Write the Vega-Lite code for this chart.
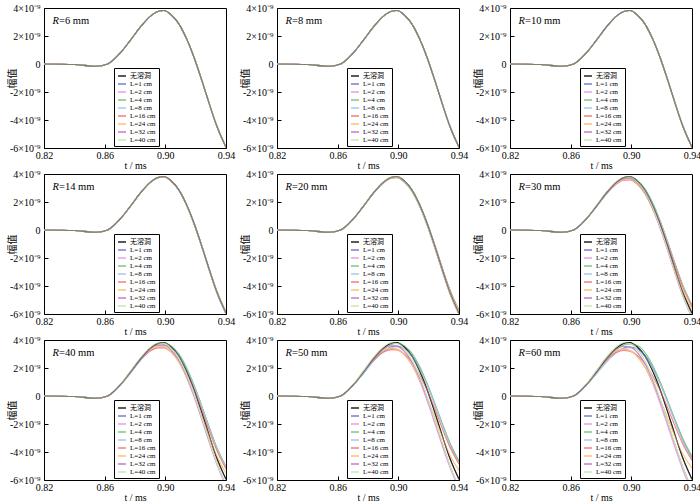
{
"$schema":"https://vega.github.io/schema/vega-lite/v6.json",
"background":"white",
"padding":{"left":6,"top":2,"right":2,"bottom":2},
"datasets":{
"p0":[
{"L":0,"t":0.82,"v":0},{"L":0,"t":0.84,"v":-0.04},{"L":0,"t":0.854,"v":-0.16},{"L":0,"t":0.862,"v":0},{"L":0,"t":0.87,"v":0.75},{"L":0,"t":0.877,"v":1.7},{"L":0,"t":0.884,"v":2.7},{"L":0,"t":0.89,"v":3.4},{"L":0,"t":0.895,"v":3.75},{"L":0,"t":0.899,"v":3.82},{"L":0,"t":0.904,"v":3.5},{"L":0,"t":0.909,"v":2.85},{"L":0,"t":0.914,"v":1.8},{"L":0,"t":0.919,"v":0.45},{"L":0,"t":0.924,"v":-1.15},{"L":0,"t":0.929,"v":-2.85},{"L":0,"t":0.934,"v":-4.45},{"L":0,"t":0.94,"v":-5.95},
{"L":1,"t":0.82,"v":0},{"L":1,"t":0.84,"v":-0.04},{"L":1,"t":0.854,"v":-0.16},{"L":1,"t":0.862,"v":0},{"L":1,"t":0.87,"v":0.75},{"L":1,"t":0.877,"v":1.7},{"L":1,"t":0.884,"v":2.7},{"L":1,"t":0.89,"v":3.4},{"L":1,"t":0.895,"v":3.75},{"L":1,"t":0.899,"v":3.82},{"L":1,"t":0.904,"v":3.5},{"L":1,"t":0.909,"v":2.85},{"L":1,"t":0.914,"v":1.8},{"L":1,"t":0.919,"v":0.45},{"L":1,"t":0.924,"v":-1.15},{"L":1,"t":0.929,"v":-2.85},{"L":1,"t":0.934,"v":-4.45},{"L":1,"t":0.94,"v":-5.95},
{"L":2,"t":0.82,"v":0},{"L":2,"t":0.84,"v":-0.04},{"L":2,"t":0.854,"v":-0.16},{"L":2,"t":0.862,"v":0},{"L":2,"t":0.87,"v":0.75},{"L":2,"t":0.877,"v":1.7},{"L":2,"t":0.884,"v":2.7},{"L":2,"t":0.89,"v":3.4},{"L":2,"t":0.895,"v":3.75},{"L":2,"t":0.899,"v":3.82},{"L":2,"t":0.904,"v":3.5},{"L":2,"t":0.909,"v":2.85},{"L":2,"t":0.914,"v":1.8},{"L":2,"t":0.919,"v":0.45},{"L":2,"t":0.924,"v":-1.15},{"L":2,"t":0.929,"v":-2.85},{"L":2,"t":0.934,"v":-4.45},{"L":2,"t":0.94,"v":-5.95},
{"L":4,"t":0.82,"v":0},{"L":4,"t":0.84,"v":-0.04},{"L":4,"t":0.854,"v":-0.16},{"L":4,"t":0.862,"v":0},{"L":4,"t":0.87,"v":0.75},{"L":4,"t":0.877,"v":1.7},{"L":4,"t":0.884,"v":2.7},{"L":4,"t":0.89,"v":3.4},{"L":4,"t":0.895,"v":3.75},{"L":4,"t":0.899,"v":3.82},{"L":4,"t":0.904,"v":3.5},{"L":4,"t":0.909,"v":2.85},{"L":4,"t":0.914,"v":1.8},{"L":4,"t":0.919,"v":0.45},{"L":4,"t":0.924,"v":-1.15},{"L":4,"t":0.929,"v":-2.85},{"L":4,"t":0.934,"v":-4.45},{"L":4,"t":0.94,"v":-5.95},
{"L":8,"t":0.82,"v":0},{"L":8,"t":0.84,"v":-0.04},{"L":8,"t":0.854,"v":-0.16},{"L":8,"t":0.862,"v":0},{"L":8,"t":0.87,"v":0.75},{"L":8,"t":0.877,"v":1.7},{"L":8,"t":0.884,"v":2.7},{"L":8,"t":0.89,"v":3.4},{"L":8,"t":0.895,"v":3.75},{"L":8,"t":0.899,"v":3.82},{"L":8,"t":0.904,"v":3.5},{"L":8,"t":0.909,"v":2.85},{"L":8,"t":0.914,"v":1.8},{"L":8,"t":0.919,"v":0.45},{"L":8,"t":0.924,"v":-1.15},{"L":8,"t":0.929,"v":-2.85},{"L":8,"t":0.934,"v":-4.45},{"L":8,"t":0.94,"v":-5.95},
{"L":16,"t":0.82,"v":0},{"L":16,"t":0.84,"v":-0.04},{"L":16,"t":0.854,"v":-0.16},{"L":16,"t":0.862,"v":0},{"L":16,"t":0.87,"v":0.75},{"L":16,"t":0.877,"v":1.7},{"L":16,"t":0.884,"v":2.7},{"L":16,"t":0.89,"v":3.4},{"L":16,"t":0.895,"v":3.75},{"L":16,"t":0.899,"v":3.82},{"L":16,"t":0.904,"v":3.5},{"L":16,"t":0.909,"v":2.85},{"L":16,"t":0.914,"v":1.8},{"L":16,"t":0.919,"v":0.45},{"L":16,"t":0.924,"v":-1.15},{"L":16,"t":0.929,"v":-2.85},{"L":16,"t":0.934,"v":-4.45},{"L":16,"t":0.94,"v":-5.95},
{"L":24,"t":0.82,"v":0},{"L":24,"t":0.84,"v":-0.04},{"L":24,"t":0.854,"v":-0.16},{"L":24,"t":0.862,"v":0},{"L":24,"t":0.87,"v":0.75},{"L":24,"t":0.877,"v":1.7},{"L":24,"t":0.884,"v":2.7},{"L":24,"t":0.89,"v":3.4},{"L":24,"t":0.895,"v":3.75},{"L":24,"t":0.899,"v":3.82},{"L":24,"t":0.904,"v":3.5},{"L":24,"t":0.909,"v":2.85},{"L":24,"t":0.914,"v":1.8},{"L":24,"t":0.919,"v":0.45},{"L":24,"t":0.924,"v":-1.15},{"L":24,"t":0.929,"v":-2.85},{"L":24,"t":0.934,"v":-4.45},{"L":24,"t":0.94,"v":-5.95},
{"L":32,"t":0.82,"v":0},{"L":32,"t":0.84,"v":-0.04},{"L":32,"t":0.854,"v":-0.16},{"L":32,"t":0.862,"v":0},{"L":32,"t":0.87,"v":0.75},{"L":32,"t":0.877,"v":1.7},{"L":32,"t":0.884,"v":2.7},{"L":32,"t":0.89,"v":3.4},{"L":32,"t":0.895,"v":3.75},{"L":32,"t":0.899,"v":3.82},{"L":32,"t":0.904,"v":3.5},{"L":32,"t":0.909,"v":2.85},{"L":32,"t":0.914,"v":1.8},{"L":32,"t":0.919,"v":0.45},{"L":32,"t":0.924,"v":-1.15},{"L":32,"t":0.929,"v":-2.85},{"L":32,"t":0.934,"v":-4.45},{"L":32,"t":0.94,"v":-5.95},
{"L":40,"t":0.82,"v":0},{"L":40,"t":0.84,"v":-0.04},{"L":40,"t":0.854,"v":-0.16},{"L":40,"t":0.862,"v":0},{"L":40,"t":0.87,"v":0.75},{"L":40,"t":0.877,"v":1.7},{"L":40,"t":0.884,"v":2.7},{"L":40,"t":0.89,"v":3.4},{"L":40,"t":0.895,"v":3.75},{"L":40,"t":0.899,"v":3.82},{"L":40,"t":0.904,"v":3.5},{"L":40,"t":0.909,"v":2.85},{"L":40,"t":0.914,"v":1.8},{"L":40,"t":0.919,"v":0.45},{"L":40,"t":0.924,"v":-1.15},{"L":40,"t":0.929,"v":-2.85},{"L":40,"t":0.934,"v":-4.45},{"L":40,"t":0.94,"v":-5.95}
],
"p14":[
{"L":0,"t":0.82,"v":0},{"L":0,"t":0.84,"v":-0.04},{"L":0,"t":0.854,"v":-0.16},{"L":0,"t":0.862,"v":0},{"L":0,"t":0.87,"v":0.75},{"L":0,"t":0.877,"v":1.7},{"L":0,"t":0.884,"v":2.7},{"L":0,"t":0.89,"v":3.4},{"L":0,"t":0.895,"v":3.75},{"L":0,"t":0.899,"v":3.82},{"L":0,"t":0.904,"v":3.5},{"L":0,"t":0.909,"v":2.85},{"L":0,"t":0.914,"v":1.8},{"L":0,"t":0.919,"v":0.45},{"L":0,"t":0.924,"v":-1.15},{"L":0,"t":0.929,"v":-2.85},{"L":0,"t":0.934,"v":-4.45},{"L":0,"t":0.94,"v":-5.95},
{"L":1,"t":0.82,"v":0},{"L":1,"t":0.84,"v":-0.04},{"L":1,"t":0.854,"v":-0.16},{"L":1,"t":0.862,"v":0},{"L":1,"t":0.87,"v":0.75},{"L":1,"t":0.877,"v":1.7},{"L":1,"t":0.884,"v":2.69},{"L":1,"t":0.89,"v":3.39},{"L":1,"t":0.895,"v":3.73},{"L":1,"t":0.899,"v":3.8},{"L":1,"t":0.904,"v":3.49},{"L":1,"t":0.909,"v":2.85},{"L":1,"t":0.914,"v":1.81},{"L":1,"t":0.919,"v":0.48},{"L":1,"t":0.924,"v":-1.11},{"L":1,"t":0.929,"v":-2.8},{"L":1,"t":0.934,"v":-4.39},{"L":1,"t":0.94,"v":-5.87},
{"L":2,"t":0.82,"v":0},{"L":2,"t":0.84,"v":-0.04},{"L":2,"t":0.854,"v":-0.16},{"L":2,"t":0.862,"v":0},{"L":2,"t":0.87,"v":0.75},{"L":2,"t":0.877,"v":1.7},{"L":2,"t":0.884,"v":2.7},{"L":2,"t":0.89,"v":3.39},{"L":2,"t":0.895,"v":3.73},{"L":2,"t":0.899,"v":3.79},{"L":2,"t":0.904,"v":3.47},{"L":2,"t":0.909,"v":2.81},{"L":2,"t":0.914,"v":1.76},{"L":2,"t":0.919,"v":0.4},{"L":2,"t":0.924,"v":-1.2},{"L":2,"t":0.929,"v":-2.9},{"L":2,"t":0.934,"v":-4.49},{"L":2,"t":0.94,"v":-6.0},
{"L":4,"t":0.82,"v":0},{"L":4,"t":0.84,"v":-0.04},{"L":4,"t":0.854,"v":-0.16},{"L":4,"t":0.862,"v":0},{"L":4,"t":0.87,"v":0.75},{"L":4,"t":0.877,"v":1.7},{"L":4,"t":0.884,"v":2.7},{"L":4,"t":0.89,"v":3.4},{"L":4,"t":0.895,"v":3.75},{"L":4,"t":0.899,"v":3.82},{"L":4,"t":0.904,"v":3.51},{"L":4,"t":0.909,"v":2.86},{"L":4,"t":0.914,"v":1.82},{"L":4,"t":0.919,"v":0.48},{"L":4,"t":0.924,"v":-1.11},{"L":4,"t":0.929,"v":-2.8},{"L":4,"t":0.934,"v":-4.38},{"L":4,"t":0.94,"v":-5.87},
{"L":8,"t":0.82,"v":0},{"L":8,"t":0.84,"v":-0.04},{"L":8,"t":0.854,"v":-0.16},{"L":8,"t":0.862,"v":0},{"L":8,"t":0.87,"v":0.75},{"L":8,"t":0.877,"v":1.7},{"L":8,"t":0.884,"v":2.69},{"L":8,"t":0.89,"v":3.39},{"L":8,"t":0.895,"v":3.73},{"L":8,"t":0.899,"v":3.8},{"L":8,"t":0.904,"v":3.49},{"L":8,"t":0.909,"v":2.85},{"L":8,"t":0.914,"v":1.81},{"L":8,"t":0.919,"v":0.47},{"L":8,"t":0.924,"v":-1.12},{"L":8,"t":0.929,"v":-2.8},{"L":8,"t":0.934,"v":-4.39},{"L":8,"t":0.94,"v":-5.88},
{"L":16,"t":0.82,"v":0},{"L":16,"t":0.84,"v":-0.04},{"L":16,"t":0.854,"v":-0.16},{"L":16,"t":0.862,"v":0},{"L":16,"t":0.87,"v":0.75},{"L":16,"t":0.877,"v":1.7},{"L":16,"t":0.884,"v":2.7},{"L":16,"t":0.89,"v":3.38},{"L":16,"t":0.895,"v":3.72},{"L":16,"t":0.899,"v":3.79},{"L":16,"t":0.904,"v":3.47},{"L":16,"t":0.909,"v":2.82},{"L":16,"t":0.914,"v":1.78},{"L":16,"t":0.919,"v":0.45},{"L":16,"t":0.924,"v":-1.14},{"L":16,"t":0.929,"v":-2.82},{"L":16,"t":0.934,"v":-4.4},{"L":16,"t":0.94,"v":-5.88},
{"L":24,"t":0.82,"v":0},{"L":24,"t":0.84,"v":-0.04},{"L":24,"t":0.854,"v":-0.16},{"L":24,"t":0.862,"v":0},{"L":24,"t":0.87,"v":0.75},{"L":24,"t":0.877,"v":1.71},{"L":24,"t":0.884,"v":2.7},{"L":24,"t":0.89,"v":3.39},{"L":24,"t":0.895,"v":3.73},{"L":24,"t":0.899,"v":3.79},{"L":24,"t":0.904,"v":3.47},{"L":24,"t":0.909,"v":2.81},{"L":24,"t":0.914,"v":1.76},{"L":24,"t":0.919,"v":0.42},{"L":24,"t":0.924,"v":-1.17},{"L":24,"t":0.929,"v":-2.86},{"L":24,"t":0.934,"v":-4.44},{"L":24,"t":0.94,"v":-5.91},
{"L":32,"t":0.82,"v":0},{"L":32,"t":0.84,"v":-0.04},{"L":32,"t":0.854,"v":-0.16},{"L":32,"t":0.862,"v":0},{"L":32,"t":0.87,"v":0.75},{"L":32,"t":0.877,"v":1.7},{"L":32,"t":0.884,"v":2.7},{"L":32,"t":0.89,"v":3.4},{"L":32,"t":0.895,"v":3.74},{"L":32,"t":0.899,"v":3.8},{"L":32,"t":0.904,"v":3.48},{"L":32,"t":0.909,"v":2.82},{"L":32,"t":0.914,"v":1.77},{"L":32,"t":0.919,"v":0.41},{"L":32,"t":0.924,"v":-1.19},{"L":32,"t":0.929,"v":-2.89},{"L":32,"t":0.934,"v":-4.48},{"L":32,"t":0.94,"v":-5.99},
{"L":40,"t":0.82,"v":0},{"L":40,"t":0.84,"v":-0.04},{"L":40,"t":0.854,"v":-0.16},{"L":40,"t":0.862,"v":0},{"L":40,"t":0.87,"v":0.75},{"L":40,"t":0.877,"v":1.71},{"L":40,"t":0.884,"v":2.71},{"L":40,"t":0.89,"v":3.41},{"L":40,"t":0.895,"v":3.75},{"L":40,"t":0.899,"v":3.82},{"L":40,"t":0.904,"v":3.49},{"L":40,"t":0.909,"v":2.83},{"L":40,"t":0.914,"v":1.78},{"L":40,"t":0.919,"v":0.42},{"L":40,"t":0.924,"v":-1.19},{"L":40,"t":0.929,"v":-2.88},{"L":40,"t":0.934,"v":-4.48},{"L":40,"t":0.94,"v":-5.99}
],
"p20":[
{"L":0,"t":0.82,"v":0},{"L":0,"t":0.84,"v":-0.04},{"L":0,"t":0.854,"v":-0.16},{"L":0,"t":0.862,"v":0},{"L":0,"t":0.87,"v":0.75},{"L":0,"t":0.877,"v":1.7},{"L":0,"t":0.884,"v":2.7},{"L":0,"t":0.89,"v":3.4},{"L":0,"t":0.895,"v":3.75},{"L":0,"t":0.899,"v":3.82},{"L":0,"t":0.904,"v":3.5},{"L":0,"t":0.909,"v":2.85},{"L":0,"t":0.914,"v":1.8},{"L":0,"t":0.919,"v":0.45},{"L":0,"t":0.924,"v":-1.15},{"L":0,"t":0.929,"v":-2.85},{"L":0,"t":0.934,"v":-4.45},{"L":0,"t":0.94,"v":-5.95},
{"L":1,"t":0.82,"v":0},{"L":1,"t":0.84,"v":-0.04},{"L":1,"t":0.854,"v":-0.16},{"L":1,"t":0.862,"v":0},{"L":1,"t":0.87,"v":0.75},{"L":1,"t":0.877,"v":1.69},{"L":1,"t":0.884,"v":2.68},{"L":1,"t":0.89,"v":3.36},{"L":1,"t":0.895,"v":3.71},{"L":1,"t":0.899,"v":3.78},{"L":1,"t":0.904,"v":3.48},{"L":1,"t":0.909,"v":2.86},{"L":1,"t":0.914,"v":1.83},{"L":1,"t":0.919,"v":0.51},{"L":1,"t":0.924,"v":-1.06},{"L":1,"t":0.929,"v":-2.72},{"L":1,"t":0.934,"v":-4.29},{"L":1,"t":0.94,"v":-5.76},
{"L":2,"t":0.82,"v":0},{"L":2,"t":0.84,"v":-0.04},{"L":2,"t":0.854,"v":-0.16},{"L":2,"t":0.862,"v":0},{"L":2,"t":0.87,"v":0.75},{"L":2,"t":0.877,"v":1.71},{"L":2,"t":0.884,"v":2.7},{"L":2,"t":0.89,"v":3.38},{"L":2,"t":0.895,"v":3.7},{"L":2,"t":0.899,"v":3.75},{"L":2,"t":0.904,"v":3.42},{"L":2,"t":0.909,"v":2.75},{"L":2,"t":0.914,"v":1.69},{"L":2,"t":0.919,"v":0.33},{"L":2,"t":0.924,"v":-1.27},{"L":2,"t":0.929,"v":-2.96},{"L":2,"t":0.934,"v":-4.55},{"L":2,"t":0.94,"v":-6.06},
{"L":4,"t":0.82,"v":0},{"L":4,"t":0.84,"v":-0.04},{"L":4,"t":0.854,"v":-0.16},{"L":4,"t":0.862,"v":0},{"L":4,"t":0.87,"v":0.75},{"L":4,"t":0.877,"v":1.69},{"L":4,"t":0.884,"v":2.69},{"L":4,"t":0.89,"v":3.39},{"L":4,"t":0.895,"v":3.74},{"L":4,"t":0.899,"v":3.81},{"L":4,"t":0.904,"v":3.51},{"L":4,"t":0.909,"v":2.88},{"L":4,"t":0.914,"v":1.85},{"L":4,"t":0.919,"v":0.52},{"L":4,"t":0.924,"v":-1.05},{"L":4,"t":0.929,"v":-2.72},{"L":4,"t":0.934,"v":-4.28},{"L":4,"t":0.94,"v":-5.75},
{"L":8,"t":0.82,"v":0},{"L":8,"t":0.84,"v":-0.04},{"L":8,"t":0.854,"v":-0.16},{"L":8,"t":0.862,"v":0},{"L":8,"t":0.87,"v":0.75},{"L":8,"t":0.877,"v":1.69},{"L":8,"t":0.884,"v":2.68},{"L":8,"t":0.89,"v":3.36},{"L":8,"t":0.895,"v":3.71},{"L":8,"t":0.899,"v":3.78},{"L":8,"t":0.904,"v":3.48},{"L":8,"t":0.909,"v":2.84},{"L":8,"t":0.914,"v":1.82},{"L":8,"t":0.919,"v":0.5},{"L":8,"t":0.924,"v":-1.07},{"L":8,"t":0.929,"v":-2.74},{"L":8,"t":0.934,"v":-4.31},{"L":8,"t":0.94,"v":-5.78},
{"L":16,"t":0.82,"v":0},{"L":16,"t":0.84,"v":-0.04},{"L":16,"t":0.854,"v":-0.16},{"L":16,"t":0.862,"v":0},{"L":16,"t":0.87,"v":0.75},{"L":16,"t":0.877,"v":1.71},{"L":16,"t":0.884,"v":2.69},{"L":16,"t":0.89,"v":3.36},{"L":16,"t":0.895,"v":3.68},{"L":16,"t":0.899,"v":3.74},{"L":16,"t":0.904,"v":3.42},{"L":16,"t":0.909,"v":2.78},{"L":16,"t":0.914,"v":1.76},{"L":16,"t":0.919,"v":0.44},{"L":16,"t":0.924,"v":-1.11},{"L":16,"t":0.929,"v":-2.77},{"L":16,"t":0.934,"v":-4.33},{"L":16,"t":0.94,"v":-5.79},
{"L":24,"t":0.82,"v":0},{"L":24,"t":0.84,"v":-0.04},{"L":24,"t":0.854,"v":-0.16},{"L":24,"t":0.862,"v":0},{"L":24,"t":0.87,"v":0.75},{"L":24,"t":0.877,"v":1.71},{"L":24,"t":0.884,"v":2.71},{"L":24,"t":0.89,"v":3.38},{"L":24,"t":0.895,"v":3.7},{"L":24,"t":0.899,"v":3.75},{"L":24,"t":0.904,"v":3.42},{"L":24,"t":0.909,"v":2.75},{"L":24,"t":0.914,"v":1.7},{"L":24,"t":0.919,"v":0.37},{"L":24,"t":0.924,"v":-1.2},{"L":24,"t":0.929,"v":-2.86},{"L":24,"t":0.934,"v":-4.41},{"L":24,"t":0.94,"v":-5.85},
{"L":32,"t":0.82,"v":0},{"L":32,"t":0.84,"v":-0.04},{"L":32,"t":0.854,"v":-0.16},{"L":32,"t":0.862,"v":0},{"L":32,"t":0.87,"v":0.75},{"L":32,"t":0.877,"v":1.71},{"L":32,"t":0.884,"v":2.71},{"L":32,"t":0.89,"v":3.39},{"L":32,"t":0.895,"v":3.73},{"L":32,"t":0.899,"v":3.78},{"L":32,"t":0.904,"v":3.45},{"L":32,"t":0.909,"v":2.78},{"L":32,"t":0.914,"v":1.72},{"L":32,"t":0.919,"v":0.36},{"L":32,"t":0.924,"v":-1.24},{"L":32,"t":0.929,"v":-2.93},{"L":32,"t":0.934,"v":-4.53},{"L":32,"t":0.94,"v":-6.04},
{"L":40,"t":0.82,"v":0},{"L":40,"t":0.84,"v":-0.04},{"L":40,"t":0.854,"v":-0.16},{"L":40,"t":0.862,"v":0},{"L":40,"t":0.87,"v":0.75},{"L":40,"t":0.877,"v":1.71},{"L":40,"t":0.884,"v":2.72},{"L":40,"t":0.89,"v":3.41},{"L":40,"t":0.895,"v":3.76},{"L":40,"t":0.899,"v":3.81},{"L":40,"t":0.904,"v":3.48},{"L":40,"t":0.909,"v":2.81},{"L":40,"t":0.914,"v":1.74},{"L":40,"t":0.919,"v":0.37},{"L":40,"t":0.924,"v":-1.23},{"L":40,"t":0.929,"v":-2.93},{"L":40,"t":0.934,"v":-4.53},{"L":40,"t":0.94,"v":-6.05}
],
"p30":[
{"L":0,"t":0.82,"v":0},{"L":0,"t":0.84,"v":-0.04},{"L":0,"t":0.854,"v":-0.16},{"L":0,"t":0.862,"v":0},{"L":0,"t":0.87,"v":0.75},{"L":0,"t":0.877,"v":1.7},{"L":0,"t":0.884,"v":2.7},{"L":0,"t":0.89,"v":3.4},{"L":0,"t":0.895,"v":3.75},{"L":0,"t":0.899,"v":3.82},{"L":0,"t":0.904,"v":3.5},{"L":0,"t":0.909,"v":2.85},{"L":0,"t":0.914,"v":1.8},{"L":0,"t":0.919,"v":0.45},{"L":0,"t":0.924,"v":-1.15},{"L":0,"t":0.929,"v":-2.85},{"L":0,"t":0.934,"v":-4.45},{"L":0,"t":0.94,"v":-5.95},
{"L":1,"t":0.82,"v":0},{"L":1,"t":0.84,"v":-0.04},{"L":1,"t":0.854,"v":-0.16},{"L":1,"t":0.862,"v":0},{"L":1,"t":0.87,"v":0.75},{"L":1,"t":0.877,"v":1.67},{"L":1,"t":0.884,"v":2.63},{"L":1,"t":0.89,"v":3.3},{"L":1,"t":0.895,"v":3.63},{"L":1,"t":0.899,"v":3.71},{"L":1,"t":0.904,"v":3.45},{"L":1,"t":0.909,"v":2.87},{"L":1,"t":0.914,"v":1.89},{"L":1,"t":0.919,"v":0.63},{"L":1,"t":0.924,"v":-0.89},{"L":1,"t":0.929,"v":-2.48},{"L":1,"t":0.934,"v":-4.0},{"L":1,"t":0.94,"v":-5.41},
{"L":2,"t":0.82,"v":0},{"L":2,"t":0.84,"v":-0.04},{"L":2,"t":0.854,"v":-0.16},{"L":2,"t":0.862,"v":0},{"L":2,"t":0.87,"v":0.75},{"L":2,"t":0.877,"v":1.72},{"L":2,"t":0.884,"v":2.7},{"L":2,"t":0.89,"v":3.33},{"L":2,"t":0.895,"v":3.59},{"L":2,"t":0.899,"v":3.62},{"L":2,"t":0.904,"v":3.27},{"L":2,"t":0.909,"v":2.57},{"L":2,"t":0.914,"v":1.49},{"L":2,"t":0.919,"v":0.1},{"L":2,"t":0.924,"v":-1.5},{"L":2,"t":0.929,"v":-3.17},{"L":2,"t":0.934,"v":-4.73},{"L":2,"t":0.94,"v":-6.28},
{"L":4,"t":0.82,"v":0},{"L":4,"t":0.84,"v":-0.04},{"L":4,"t":0.854,"v":-0.16},{"L":4,"t":0.862,"v":0},{"L":4,"t":0.87,"v":0.75},{"L":4,"t":0.877,"v":1.67},{"L":4,"t":0.884,"v":2.67},{"L":4,"t":0.89,"v":3.37},{"L":4,"t":0.895,"v":3.72},{"L":4,"t":0.899,"v":3.8},{"L":4,"t":0.904,"v":3.54},{"L":4,"t":0.909,"v":2.94},{"L":4,"t":0.914,"v":1.94},{"L":4,"t":0.919,"v":0.64},{"L":4,"t":0.924,"v":-0.87},{"L":4,"t":0.929,"v":-2.47},{"L":4,"t":0.934,"v":-3.96},{"L":4,"t":0.94,"v":-5.37},
{"L":8,"t":0.82,"v":0},{"L":8,"t":0.84,"v":-0.04},{"L":8,"t":0.854,"v":-0.16},{"L":8,"t":0.862,"v":0},{"L":8,"t":0.87,"v":0.75},{"L":8,"t":0.877,"v":1.67},{"L":8,"t":0.884,"v":2.63},{"L":8,"t":0.89,"v":3.3},{"L":8,"t":0.895,"v":3.62},{"L":8,"t":0.899,"v":3.69},{"L":8,"t":0.904,"v":3.43},{"L":8,"t":0.909,"v":2.83},{"L":8,"t":0.914,"v":1.85},{"L":8,"t":0.919,"v":0.59},{"L":8,"t":0.924,"v":-0.92},{"L":8,"t":0.929,"v":-2.52},{"L":8,"t":0.934,"v":-4.03},{"L":8,"t":0.94,"v":-5.44},
{"L":16,"t":0.82,"v":0},{"L":16,"t":0.84,"v":-0.04},{"L":16,"t":0.854,"v":-0.16},{"L":16,"t":0.862,"v":0},{"L":16,"t":0.87,"v":0.75},{"L":16,"t":0.877,"v":1.72},{"L":16,"t":0.884,"v":2.67},{"L":16,"t":0.89,"v":3.28},{"L":16,"t":0.895,"v":3.55},{"L":16,"t":0.899,"v":3.58},{"L":16,"t":0.904,"v":3.27},{"L":16,"t":0.909,"v":2.66},{"L":16,"t":0.914,"v":1.68},{"L":16,"t":0.919,"v":0.43},{"L":16,"t":0.924,"v":-1.05},{"L":16,"t":0.929,"v":-2.62},{"L":16,"t":0.934,"v":-4.1},{"L":16,"t":0.94,"v":-5.48},
{"L":24,"t":0.82,"v":0},{"L":24,"t":0.84,"v":-0.04},{"L":24,"t":0.854,"v":-0.16},{"L":24,"t":0.862,"v":0},{"L":24,"t":0.87,"v":0.75},{"L":24,"t":0.877,"v":1.74},{"L":24,"t":0.884,"v":2.72},{"L":24,"t":0.89,"v":3.35},{"L":24,"t":0.895,"v":3.61},{"L":24,"t":0.899,"v":3.62},{"L":24,"t":0.904,"v":3.26},{"L":24,"t":0.909,"v":2.57},{"L":24,"t":0.914,"v":1.52},{"L":24,"t":0.919,"v":0.21},{"L":24,"t":0.924,"v":-1.31},{"L":24,"t":0.929,"v":-2.89},{"L":24,"t":0.934,"v":-4.35},{"L":24,"t":0.94,"v":-5.67},
{"L":32,"t":0.82,"v":0},{"L":32,"t":0.84,"v":-0.04},{"L":32,"t":0.854,"v":-0.16},{"L":32,"t":0.862,"v":0},{"L":32,"t":0.87,"v":0.75},{"L":32,"t":0.877,"v":1.72},{"L":32,"t":0.884,"v":2.72},{"L":32,"t":0.89,"v":3.38},{"L":32,"t":0.895,"v":3.68},{"L":32,"t":0.899,"v":3.71},{"L":32,"t":0.904,"v":3.36},{"L":32,"t":0.909,"v":2.66},{"L":32,"t":0.914,"v":1.57},{"L":32,"t":0.919,"v":0.19},{"L":32,"t":0.924,"v":-1.41},{"L":32,"t":0.929,"v":-3.1},{"L":32,"t":0.934,"v":-4.68},{"L":32,"t":0.94,"v":-6.21},
{"L":40,"t":0.82,"v":0},{"L":40,"t":0.84,"v":-0.04},{"L":40,"t":0.854,"v":-0.16},{"L":40,"t":0.862,"v":0},{"L":40,"t":0.87,"v":0.75},{"L":40,"t":0.877,"v":1.74},{"L":40,"t":0.884,"v":2.75},{"L":40,"t":0.89,"v":3.44},{"L":40,"t":0.895,"v":3.77},{"L":40,"t":0.899,"v":3.8},{"L":40,"t":0.904,"v":3.43},{"L":40,"t":0.909,"v":2.73},{"L":40,"t":0.914,"v":1.63},{"L":40,"t":0.919,"v":0.22},{"L":40,"t":0.924,"v":-1.4},{"L":40,"t":0.929,"v":-3.08},{"L":40,"t":0.934,"v":-4.68},{"L":40,"t":0.94,"v":-6.25}
],
"p40":[
{"L":0,"t":0.82,"v":0},{"L":0,"t":0.84,"v":-0.04},{"L":0,"t":0.854,"v":-0.16},{"L":0,"t":0.862,"v":0},{"L":0,"t":0.87,"v":0.75},{"L":0,"t":0.877,"v":1.7},{"L":0,"t":0.884,"v":2.7},{"L":0,"t":0.89,"v":3.4},{"L":0,"t":0.895,"v":3.75},{"L":0,"t":0.899,"v":3.82},{"L":0,"t":0.904,"v":3.5},{"L":0,"t":0.909,"v":2.85},{"L":0,"t":0.914,"v":1.8},{"L":0,"t":0.919,"v":0.45},{"L":0,"t":0.924,"v":-1.15},{"L":0,"t":0.929,"v":-2.85},{"L":0,"t":0.934,"v":-4.45},{"L":0,"t":0.94,"v":-5.95},
{"L":1,"t":0.82,"v":0},{"L":1,"t":0.84,"v":-0.04},{"L":1,"t":0.854,"v":-0.16},{"L":1,"t":0.862,"v":0},{"L":1,"t":0.87,"v":0.75},{"L":1,"t":0.877,"v":1.65},{"L":1,"t":0.884,"v":2.59},{"L":1,"t":0.89,"v":3.24},{"L":1,"t":0.895,"v":3.57},{"L":1,"t":0.899,"v":3.64},{"L":1,"t":0.904,"v":3.42},{"L":1,"t":0.909,"v":2.88},{"L":1,"t":0.914,"v":1.94},{"L":1,"t":0.919,"v":0.73},{"L":1,"t":0.924,"v":-0.74},{"L":1,"t":0.929,"v":-2.27},{"L":1,"t":0.934,"v":-3.74},{"L":1,"t":0.94,"v":-5.1},
{"L":2,"t":0.82,"v":0},{"L":2,"t":0.84,"v":-0.04},{"L":2,"t":0.854,"v":-0.16},{"L":2,"t":0.862,"v":0},{"L":2,"t":0.87,"v":0.75},{"L":2,"t":0.877,"v":1.73},{"L":2,"t":0.884,"v":2.7},{"L":2,"t":0.89,"v":3.29},{"L":2,"t":0.895,"v":3.5},{"L":2,"t":0.899,"v":3.51},{"L":2,"t":0.904,"v":3.14},{"L":2,"t":0.909,"v":2.41},{"L":2,"t":0.914,"v":1.31},{"L":2,"t":0.919,"v":-0.1},{"L":2,"t":0.924,"v":-1.7},{"L":2,"t":0.929,"v":-3.35},{"L":2,"t":0.934,"v":-4.89},{"L":2,"t":0.94,"v":-6.47},
{"L":4,"t":0.82,"v":0},{"L":4,"t":0.84,"v":-0.04},{"L":4,"t":0.854,"v":-0.16},{"L":4,"t":0.862,"v":0},{"L":4,"t":0.87,"v":0.75},{"L":4,"t":0.877,"v":1.65},{"L":4,"t":0.884,"v":2.65},{"L":4,"t":0.89,"v":3.35},{"L":4,"t":0.895,"v":3.7},{"L":4,"t":0.899,"v":3.78},{"L":4,"t":0.904,"v":3.56},{"L":4,"t":0.909,"v":2.99},{"L":4,"t":0.914,"v":2.02},{"L":4,"t":0.919,"v":0.75},{"L":4,"t":0.924,"v":-0.71},{"L":4,"t":0.929,"v":-2.25},{"L":4,"t":0.934,"v":-3.68},{"L":4,"t":0.94,"v":-5.04},
{"L":8,"t":0.82,"v":0},{"L":8,"t":0.84,"v":-0.04},{"L":8,"t":0.854,"v":-0.16},{"L":8,"t":0.862,"v":0},{"L":8,"t":0.87,"v":0.75},{"L":8,"t":0.877,"v":1.65},{"L":8,"t":0.884,"v":2.59},{"L":8,"t":0.89,"v":3.24},{"L":8,"t":0.895,"v":3.55},{"L":8,"t":0.899,"v":3.62},{"L":8,"t":0.904,"v":3.39},{"L":8,"t":0.909,"v":2.82},{"L":8,"t":0.914,"v":1.88},{"L":8,"t":0.919,"v":0.67},{"L":8,"t":0.924,"v":-0.79},{"L":8,"t":0.929,"v":-2.33},{"L":8,"t":0.934,"v":-3.79},{"L":8,"t":0.94,"v":-5.15},
{"L":16,"t":0.82,"v":0},{"L":16,"t":0.84,"v":-0.04},{"L":16,"t":0.854,"v":-0.16},{"L":16,"t":0.862,"v":0},{"L":16,"t":0.87,"v":0.75},{"L":16,"t":0.877,"v":1.73},{"L":16,"t":0.884,"v":2.65},{"L":16,"t":0.89,"v":3.21},{"L":16,"t":0.895,"v":3.44},{"L":16,"t":0.899,"v":3.44},{"L":16,"t":0.904,"v":3.14},{"L":16,"t":0.909,"v":2.55},{"L":16,"t":0.914,"v":1.61},{"L":16,"t":0.919,"v":0.42},{"L":16,"t":0.924,"v":-0.99},{"L":16,"t":0.929,"v":-2.49},{"L":16,"t":0.934,"v":-3.9},{"L":16,"t":0.94,"v":-5.21},
{"L":24,"t":0.82,"v":0},{"L":24,"t":0.84,"v":-0.04},{"L":24,"t":0.854,"v":-0.16},{"L":24,"t":0.862,"v":0},{"L":24,"t":0.87,"v":0.75},{"L":24,"t":0.877,"v":1.76},{"L":24,"t":0.884,"v":2.73},{"L":24,"t":0.89,"v":3.32},{"L":24,"t":0.895,"v":3.53},{"L":24,"t":0.899,"v":3.51},{"L":24,"t":0.904,"v":3.12},{"L":24,"t":0.909,"v":2.41},{"L":24,"t":0.914,"v":1.36},{"L":24,"t":0.919,"v":0.07},{"L":24,"t":0.924,"v":-1.4},{"L":24,"t":0.929,"v":-2.91},{"L":24,"t":0.934,"v":-4.29},{"L":24,"t":0.94,"v":-5.51},
{"L":32,"t":0.82,"v":0},{"L":32,"t":0.84,"v":-0.04},{"L":32,"t":0.854,"v":-0.16},{"L":32,"t":0.862,"v":0},{"L":32,"t":0.87,"v":0.75},{"L":32,"t":0.877,"v":1.73},{"L":32,"t":0.884,"v":2.73},{"L":32,"t":0.89,"v":3.37},{"L":32,"t":0.895,"v":3.64},{"L":32,"t":0.899,"v":3.64},{"L":32,"t":0.904,"v":3.28},{"L":32,"t":0.909,"v":2.55},{"L":32,"t":0.914,"v":1.44},{"L":32,"t":0.919,"v":0.04},{"L":32,"t":0.924,"v":-1.56},{"L":32,"t":0.929,"v":-3.24},{"L":32,"t":0.934,"v":-4.81},{"L":32,"t":0.94,"v":-6.36},
{"L":40,"t":0.82,"v":0},{"L":40,"t":0.84,"v":-0.04},{"L":40,"t":0.854,"v":-0.16},{"L":40,"t":0.862,"v":0},{"L":40,"t":0.87,"v":0.75},{"L":40,"t":0.877,"v":1.76},{"L":40,"t":0.884,"v":2.78},{"L":40,"t":0.89,"v":3.46},{"L":40,"t":0.895,"v":3.78},{"L":40,"t":0.899,"v":3.78},{"L":40,"t":0.904,"v":3.39},{"L":40,"t":0.909,"v":2.66},{"L":40,"t":0.914,"v":1.53},{"L":40,"t":0.919,"v":0.09},{"L":40,"t":0.924,"v":-1.54},{"L":40,"t":0.929,"v":-3.21},{"L":40,"t":0.934,"v":-4.81},{"L":40,"t":0.94,"v":-6.42}
],
"p50":[
{"L":0,"t":0.82,"v":0},{"L":0,"t":0.84,"v":-0.04},{"L":0,"t":0.854,"v":-0.16},{"L":0,"t":0.862,"v":0},{"L":0,"t":0.87,"v":0.75},{"L":0,"t":0.877,"v":1.7},{"L":0,"t":0.884,"v":2.7},{"L":0,"t":0.89,"v":3.4},{"L":0,"t":0.895,"v":3.75},{"L":0,"t":0.899,"v":3.82},{"L":0,"t":0.904,"v":3.5},{"L":0,"t":0.909,"v":2.85},{"L":0,"t":0.914,"v":1.8},{"L":0,"t":0.919,"v":0.45},{"L":0,"t":0.924,"v":-1.15},{"L":0,"t":0.929,"v":-2.85},{"L":0,"t":0.934,"v":-4.45},{"L":0,"t":0.94,"v":-5.95},
{"L":1,"t":0.82,"v":0},{"L":1,"t":0.84,"v":-0.04},{"L":1,"t":0.854,"v":-0.16},{"L":1,"t":0.862,"v":0},{"L":1,"t":0.87,"v":0.75},{"L":1,"t":0.877,"v":1.62},{"L":1,"t":0.884,"v":2.54},{"L":1,"t":0.89,"v":3.16},{"L":1,"t":0.895,"v":3.49},{"L":1,"t":0.899,"v":3.56},{"L":1,"t":0.904,"v":3.38},{"L":1,"t":0.909,"v":2.89},{"L":1,"t":0.914,"v":2.0},{"L":1,"t":0.919,"v":0.85},{"L":1,"t":0.924,"v":-0.55},{"L":1,"t":0.929,"v":-2.01},{"L":1,"t":0.934,"v":-3.41},{"L":1,"t":0.94,"v":-4.71},
{"L":2,"t":0.82,"v":0},{"L":2,"t":0.84,"v":-0.04},{"L":2,"t":0.854,"v":-0.16},{"L":2,"t":0.862,"v":0},{"L":2,"t":0.87,"v":0.75},{"L":2,"t":0.877,"v":1.74},{"L":2,"t":0.884,"v":2.7},{"L":2,"t":0.89,"v":3.24},{"L":2,"t":0.895,"v":3.39},{"L":2,"t":0.899,"v":3.36},{"L":2,"t":0.904,"v":2.98},{"L":2,"t":0.909,"v":2.21},{"L":2,"t":0.914,"v":1.08},{"L":2,"t":0.919,"v":-0.35},{"L":2,"t":0.924,"v":-1.95},{"L":2,"t":0.929,"v":-3.57},{"L":2,"t":0.934,"v":-5.09},{"L":2,"t":0.94,"v":-6.71},
{"L":4,"t":0.82,"v":0},{"L":4,"t":0.84,"v":-0.04},{"L":4,"t":0.854,"v":-0.16},{"L":4,"t":0.862,"v":0},{"L":4,"t":0.87,"v":0.75},{"L":4,"t":0.877,"v":1.62},{"L":4,"t":0.884,"v":2.62},{"L":4,"t":0.89,"v":3.32},{"L":4,"t":0.895,"v":3.67},{"L":4,"t":0.899,"v":3.76},{"L":4,"t":0.904,"v":3.58},{"L":4,"t":0.909,"v":3.05},{"L":4,"t":0.914,"v":2.12},{"L":4,"t":0.919,"v":0.89},{"L":4,"t":0.924,"v":-0.51},{"L":4,"t":0.929,"v":-1.97},{"L":4,"t":0.934,"v":-3.33},{"L":4,"t":0.94,"v":-4.63},
{"L":8,"t":0.82,"v":0},{"L":8,"t":0.84,"v":-0.04},{"L":8,"t":0.854,"v":-0.16},{"L":8,"t":0.862,"v":0},{"L":8,"t":0.87,"v":0.75},{"L":8,"t":0.877,"v":1.62},{"L":8,"t":0.884,"v":2.54},{"L":8,"t":0.89,"v":3.16},{"L":8,"t":0.895,"v":3.45},{"L":8,"t":0.899,"v":3.52},{"L":8,"t":0.904,"v":3.34},{"L":8,"t":0.909,"v":2.81},{"L":8,"t":0.914,"v":1.92},{"L":8,"t":0.919,"v":0.77},{"L":8,"t":0.924,"v":-0.63},{"L":8,"t":0.929,"v":-2.09},{"L":8,"t":0.934,"v":-3.49},{"L":8,"t":0.94,"v":-4.79},
{"L":16,"t":0.82,"v":0},{"L":16,"t":0.84,"v":-0.04},{"L":16,"t":0.854,"v":-0.16},{"L":16,"t":0.862,"v":0},{"L":16,"t":0.87,"v":0.75},{"L":16,"t":0.877,"v":1.74},{"L":16,"t":0.884,"v":2.62},{"L":16,"t":0.89,"v":3.12},{"L":16,"t":0.895,"v":3.31},{"L":16,"t":0.899,"v":3.29},{"L":16,"t":0.904,"v":2.98},{"L":16,"t":0.909,"v":2.41},{"L":16,"t":0.914,"v":1.52},{"L":16,"t":0.919,"v":0.41},{"L":16,"t":0.924,"v":-0.91},{"L":16,"t":0.929,"v":-2.33},{"L":16,"t":0.934,"v":-3.65},{"L":16,"t":0.94,"v":-4.87},
{"L":24,"t":0.82,"v":0},{"L":24,"t":0.84,"v":-0.04},{"L":24,"t":0.854,"v":-0.16},{"L":24,"t":0.862,"v":0},{"L":24,"t":0.87,"v":0.75},{"L":24,"t":0.877,"v":1.78},{"L":24,"t":0.884,"v":2.74},{"L":24,"t":0.89,"v":3.28},{"L":24,"t":0.895,"v":3.43},{"L":24,"t":0.899,"v":3.36},{"L":24,"t":0.904,"v":2.94},{"L":24,"t":0.909,"v":2.21},{"L":24,"t":0.914,"v":1.16},{"L":24,"t":0.919,"v":-0.11},{"L":24,"t":0.924,"v":-1.51},{"L":24,"t":0.929,"v":-2.93},{"L":24,"t":0.934,"v":-4.21},{"L":24,"t":0.94,"v":-5.31},
{"L":32,"t":0.82,"v":0},{"L":32,"t":0.84,"v":-0.04},{"L":32,"t":0.854,"v":-0.16},{"L":32,"t":0.862,"v":0},{"L":32,"t":0.87,"v":0.75},{"L":32,"t":0.877,"v":1.74},{"L":32,"t":0.884,"v":2.74},{"L":32,"t":0.89,"v":3.36},{"L":32,"t":0.895,"v":3.59},{"L":32,"t":0.899,"v":3.56},{"L":32,"t":0.904,"v":3.18},{"L":32,"t":0.909,"v":2.41},{"L":32,"t":0.914,"v":1.28},{"L":32,"t":0.919,"v":-0.15},{"L":32,"t":0.924,"v":-1.75},{"L":32,"t":0.929,"v":-3.41},{"L":32,"t":0.934,"v":-4.97},{"L":32,"t":0.94,"v":-6.55},
{"L":40,"t":0.82,"v":0},{"L":40,"t":0.84,"v":-0.04},{"L":40,"t":0.854,"v":-0.16},{"L":40,"t":0.862,"v":0},{"L":40,"t":0.87,"v":0.75},{"L":40,"t":0.877,"v":1.78},{"L":40,"t":0.884,"v":2.82},{"L":40,"t":0.89,"v":3.48},{"L":40,"t":0.895,"v":3.79},{"L":40,"t":0.899,"v":3.76},{"L":40,"t":0.904,"v":3.34},{"L":40,"t":0.909,"v":2.57},{"L":40,"t":0.914,"v":1.4},{"L":40,"t":0.919,"v":-0.07},{"L":40,"t":0.924,"v":-1.71},{"L":40,"t":0.929,"v":-3.37},{"L":40,"t":0.934,"v":-4.97},{"L":40,"t":0.94,"v":-6.63}
],
"p60":[
{"L":0,"t":0.82,"v":0},{"L":0,"t":0.84,"v":-0.04},{"L":0,"t":0.854,"v":-0.16},{"L":0,"t":0.862,"v":0},{"L":0,"t":0.87,"v":0.75},{"L":0,"t":0.877,"v":1.7},{"L":0,"t":0.884,"v":2.7},{"L":0,"t":0.89,"v":3.4},{"L":0,"t":0.895,"v":3.75},{"L":0,"t":0.899,"v":3.82},{"L":0,"t":0.904,"v":3.5},{"L":0,"t":0.909,"v":2.85},{"L":0,"t":0.914,"v":1.8},{"L":0,"t":0.919,"v":0.45},{"L":0,"t":0.924,"v":-1.15},{"L":0,"t":0.929,"v":-2.85},{"L":0,"t":0.934,"v":-4.45},{"L":0,"t":0.94,"v":-5.95},
{"L":1,"t":0.82,"v":0},{"L":1,"t":0.84,"v":-0.04},{"L":1,"t":0.854,"v":-0.16},{"L":1,"t":0.862,"v":0},{"L":1,"t":0.87,"v":0.75},{"L":1,"t":0.877,"v":1.6},{"L":1,"t":0.884,"v":2.5},{"L":1,"t":0.89,"v":3.1},{"L":1,"t":0.895,"v":3.42},{"L":1,"t":0.899,"v":3.5},{"L":1,"t":0.904,"v":3.35},{"L":1,"t":0.909,"v":2.9},{"L":1,"t":0.914,"v":2.05},{"L":1,"t":0.919,"v":0.95},{"L":1,"t":0.924,"v":-0.4},{"L":1,"t":0.929,"v":-1.8},{"L":1,"t":0.934,"v":-3.15},{"L":1,"t":0.94,"v":-4.4},
{"L":2,"t":0.82,"v":0},{"L":2,"t":0.84,"v":-0.04},{"L":2,"t":0.854,"v":-0.16},{"L":2,"t":0.862,"v":0},{"L":2,"t":0.87,"v":0.75},{"L":2,"t":0.877,"v":1.75},{"L":2,"t":0.884,"v":2.7},{"L":2,"t":0.89,"v":3.2},{"L":2,"t":0.895,"v":3.3},{"L":2,"t":0.899,"v":3.25},{"L":2,"t":0.904,"v":2.85},{"L":2,"t":0.909,"v":2.05},{"L":2,"t":0.914,"v":0.9},{"L":2,"t":0.919,"v":-0.55},{"L":2,"t":0.924,"v":-2.15},{"L":2,"t":0.929,"v":-3.75},{"L":2,"t":0.934,"v":-5.3},{"L":2,"t":0.94,"v":-6.9},
{"L":4,"t":0.82,"v":0},{"L":4,"t":0.84,"v":-0.04},{"L":4,"t":0.854,"v":-0.16},{"L":4,"t":0.862,"v":0},{"L":4,"t":0.87,"v":0.75},{"L":4,"t":0.877,"v":1.6},{"L":4,"t":0.884,"v":2.6},{"L":4,"t":0.89,"v":3.3},{"L":4,"t":0.895,"v":3.65},{"L":4,"t":0.899,"v":3.72},{"L":4,"t":0.904,"v":3.6},{"L":4,"t":0.909,"v":3.1},{"L":4,"t":0.914,"v":2.2},{"L":4,"t":0.919,"v":1.0},{"L":4,"t":0.924,"v":-0.35},{"L":4,"t":0.929,"v":-1.75},{"L":4,"t":0.934,"v":-3.05},{"L":4,"t":0.94,"v":-4.3},
{"L":8,"t":0.82,"v":0},{"L":8,"t":0.84,"v":-0.04},{"L":8,"t":0.854,"v":-0.16},{"L":8,"t":0.862,"v":0},{"L":8,"t":0.87,"v":0.75},{"L":8,"t":0.877,"v":1.6},{"L":8,"t":0.884,"v":2.5},{"L":8,"t":0.89,"v":3.1},{"L":8,"t":0.895,"v":3.38},{"L":8,"t":0.899,"v":3.45},{"L":8,"t":0.904,"v":3.3},{"L":8,"t":0.909,"v":2.8},{"L":8,"t":0.914,"v":1.95},{"L":8,"t":0.919,"v":0.85},{"L":8,"t":0.924,"v":-0.5},{"L":8,"t":0.929,"v":-1.9},{"L":8,"t":0.934,"v":-3.25},{"L":8,"t":0.94,"v":-4.5},
{"L":16,"t":0.82,"v":0},{"L":16,"t":0.84,"v":-0.04},{"L":16,"t":0.854,"v":-0.16},{"L":16,"t":0.862,"v":0},{"L":16,"t":0.87,"v":0.75},{"L":16,"t":0.877,"v":1.75},{"L":16,"t":0.884,"v":2.62},{"L":16,"t":0.89,"v":3.1},{"L":16,"t":0.895,"v":3.25},{"L":16,"t":0.899,"v":3.2},{"L":16,"t":0.904,"v":2.9},{"L":16,"t":0.909,"v":2.32},{"L":16,"t":0.914,"v":1.45},{"L":16,"t":0.919,"v":0.4},{"L":16,"t":0.924,"v":-0.85},{"L":16,"t":0.929,"v":-2.2},{"L":16,"t":0.934,"v":-3.45},{"L":16,"t":0.94,"v":-4.6},
{"L":24,"t":0.82,"v":0},{"L":24,"t":0.84,"v":-0.04},{"L":24,"t":0.854,"v":-0.16},{"L":24,"t":0.862,"v":0},{"L":24,"t":0.87,"v":0.75},{"L":24,"t":0.877,"v":1.8},{"L":24,"t":0.884,"v":2.75},{"L":24,"t":0.89,"v":3.25},{"L":24,"t":0.895,"v":3.35},{"L":24,"t":0.899,"v":3.25},{"L":24,"t":0.904,"v":2.8},{"L":24,"t":0.909,"v":2.05},{"L":24,"t":0.914,"v":1.0},{"L":24,"t":0.919,"v":-0.25},{"L":24,"t":0.924,"v":-1.6},{"L":24,"t":0.929,"v":-2.95},{"L":24,"t":0.934,"v":-4.15},{"L":24,"t":0.94,"v":-5.15},
{"L":32,"t":0.82,"v":0},{"L":32,"t":0.84,"v":-0.04},{"L":32,"t":0.854,"v":-0.16},{"L":32,"t":0.862,"v":0},{"L":32,"t":0.87,"v":0.75},{"L":32,"t":0.877,"v":1.75},{"L":32,"t":0.884,"v":2.75},{"L":32,"t":0.89,"v":3.35},{"L":32,"t":0.895,"v":3.55},{"L":32,"t":0.899,"v":3.5},{"L":32,"t":0.904,"v":3.1},{"L":32,"t":0.909,"v":2.3},{"L":32,"t":0.914,"v":1.15},{"L":32,"t":0.919,"v":-0.3},{"L":32,"t":0.924,"v":-1.9},{"L":32,"t":0.929,"v":-3.55},{"L":32,"t":0.934,"v":-5.1},{"L":32,"t":0.94,"v":-6.7},
{"L":40,"t":0.82,"v":0},{"L":40,"t":0.84,"v":-0.04},{"L":40,"t":0.854,"v":-0.16},{"L":40,"t":0.862,"v":0},{"L":40,"t":0.87,"v":0.75},{"L":40,"t":0.877,"v":1.8},{"L":40,"t":0.884,"v":2.85},{"L":40,"t":0.89,"v":3.5},{"L":40,"t":0.895,"v":3.8},{"L":40,"t":0.899,"v":3.75},{"L":40,"t":0.904,"v":3.3},{"L":40,"t":0.909,"v":2.5},{"L":40,"t":0.914,"v":1.3},{"L":40,"t":0.919,"v":-0.2},{"L":40,"t":0.924,"v":-1.85},{"L":40,"t":0.929,"v":-3.5},{"L":40,"t":0.934,"v":-5.1},{"L":40,"t":0.94,"v":-6.8}
]
},
"columns":3,
"spacing":{"row":26,"column":51},
"bounds":"flush",
"resolve":{"scale":{"color":"independent"}},
"concat":[
{"width":182,"height":140,"layer":[
{"data":{"name":"p0"},"mark":{"type":"line","clip":true,"strokeWidth":1.1,"interpolate":"monotone"},"encoding":{"x":{"field":"t","type":"quantitative","scale":{"domain":[0.82,0.94]},"axis":{"values":[0.82,0.86,0.9,0.94],"tickCount":8,"labelExpr":"format(datum.value,'.2f')","title":"t / ms"}},"y":{"field":"v","type":"quantitative","scale":{"domain":[-6,4]},"axis":{"values":[-6,-4,-2,0,2,4],"tickCount":12,"labelExpr":"datum.value==0?'0':datum.value+'×10⁻⁹'","title":"幅值"}},"color":{"field":"L","type":"nominal","scale":{"domain":[0,1,2,4,8,16,24,32,40],"range":["#222222","#7b7bd6","#e8a0e8","#7fc97f","#a8c8e8","#f28080","#f6c770","#c47ccc","#c8e8b4"]},"legend":{"orient":"none","legendX":70,"legendY":60,"title":null,"labelExpr":"datum.label=='0'?'无溶洞':'L='+datum.label+' cm'"}}}},
{"data":{"name":"p0"},"transform":[{"filter":"datum.L==0"}],"mark":{"type":"line","clip":true,"strokeWidth":1.1,"interpolate":"monotone","color":"#222222","strokeOpacity":0.5},"encoding":{"x":{"field":"t","type":"quantitative"},"y":{"field":"v","type":"quantitative"}}},
{"data":{"values":[{"s":"R"}]},"mark":{"type":"text","fontStyle":"italic","align":"right","baseline":"middle","fontSize":10.5},"encoding":{"x":{"datum":0.8299},"y":{"datum":3.07},"text":{"field":"s"}}},
{"data":{"values":[{"s":"=6 mm"}]},"mark":{"type":"text","align":"left","baseline":"middle","fontSize":10.5},"encoding":{"x":{"datum":0.8299},"y":{"datum":3.07},"text":{"field":"s"}}}
]},
{"width":182,"height":140,"layer":[
{"data":{"name":"p0"},"mark":{"type":"line","clip":true,"strokeWidth":1.1,"interpolate":"monotone"},"encoding":{"x":{"field":"t","type":"quantitative","scale":{"domain":[0.82,0.94]},"axis":{"values":[0.82,0.86,0.9,0.94],"tickCount":8,"labelExpr":"format(datum.value,'.2f')","title":"t / ms"}},"y":{"field":"v","type":"quantitative","scale":{"domain":[-6,4]},"axis":{"values":[-6,-4,-2,0,2,4],"tickCount":12,"labelExpr":"datum.value==0?'0':datum.value+'×10⁻⁹'","title":"幅值"}},"color":{"field":"L","type":"nominal","scale":{"domain":[0,1,2,4,8,16,24,32,40],"range":["#222222","#7b7bd6","#e8a0e8","#7fc97f","#a8c8e8","#f28080","#f6c770","#c47ccc","#c8e8b4"]},"legend":{"orient":"none","legendX":70,"legendY":60,"title":null,"labelExpr":"datum.label=='0'?'无溶洞':'L='+datum.label+' cm'"}}}},
{"data":{"name":"p0"},"transform":[{"filter":"datum.L==0"}],"mark":{"type":"line","clip":true,"strokeWidth":1.1,"interpolate":"monotone","color":"#222222","strokeOpacity":0.5},"encoding":{"x":{"field":"t","type":"quantitative"},"y":{"field":"v","type":"quantitative"}}},
{"data":{"values":[{"s":"R"}]},"mark":{"type":"text","fontStyle":"italic","align":"right","baseline":"middle","fontSize":10.5},"encoding":{"x":{"datum":0.8299},"y":{"datum":3.07},"text":{"field":"s"}}},
{"data":{"values":[{"s":"=8 mm"}]},"mark":{"type":"text","align":"left","baseline":"middle","fontSize":10.5},"encoding":{"x":{"datum":0.8299},"y":{"datum":3.07},"text":{"field":"s"}}}
]},
{"width":182,"height":140,"layer":[
{"data":{"name":"p0"},"mark":{"type":"line","clip":true,"strokeWidth":1.1,"interpolate":"monotone"},"encoding":{"x":{"field":"t","type":"quantitative","scale":{"domain":[0.82,0.94]},"axis":{"values":[0.82,0.86,0.9,0.94],"tickCount":8,"labelExpr":"format(datum.value,'.2f')","title":"t / ms"}},"y":{"field":"v","type":"quantitative","scale":{"domain":[-6,4]},"axis":{"values":[-6,-4,-2,0,2,4],"tickCount":12,"labelExpr":"datum.value==0?'0':datum.value+'×10⁻⁹'","title":"幅值"}},"color":{"field":"L","type":"nominal","scale":{"domain":[0,1,2,4,8,16,24,32,40],"range":["#222222","#7b7bd6","#e8a0e8","#7fc97f","#a8c8e8","#f28080","#f6c770","#c47ccc","#c8e8b4"]},"legend":{"orient":"none","legendX":70,"legendY":60,"title":null,"labelExpr":"datum.label=='0'?'无溶洞':'L='+datum.label+' cm'"}}}},
{"data":{"name":"p0"},"transform":[{"filter":"datum.L==0"}],"mark":{"type":"line","clip":true,"strokeWidth":1.1,"interpolate":"monotone","color":"#222222","strokeOpacity":0.5},"encoding":{"x":{"field":"t","type":"quantitative"},"y":{"field":"v","type":"quantitative"}}},
{"data":{"values":[{"s":"R"}]},"mark":{"type":"text","fontStyle":"italic","align":"right","baseline":"middle","fontSize":10.5},"encoding":{"x":{"datum":0.8299},"y":{"datum":3.07},"text":{"field":"s"}}},
{"data":{"values":[{"s":"=10 mm"}]},"mark":{"type":"text","align":"left","baseline":"middle","fontSize":10.5},"encoding":{"x":{"datum":0.8299},"y":{"datum":3.07},"text":{"field":"s"}}}
]},
{"width":182,"height":140,"layer":[
{"data":{"name":"p14"},"mark":{"type":"line","clip":true,"strokeWidth":1.1,"interpolate":"monotone"},"encoding":{"x":{"field":"t","type":"quantitative","scale":{"domain":[0.82,0.94]},"axis":{"values":[0.82,0.86,0.9,0.94],"tickCount":8,"labelExpr":"format(datum.value,'.2f')","title":"t / ms"}},"y":{"field":"v","type":"quantitative","scale":{"domain":[-6,4]},"axis":{"values":[-6,-4,-2,0,2,4],"tickCount":12,"labelExpr":"datum.value==0?'0':datum.value+'×10⁻⁹'","title":"幅值"}},"color":{"field":"L","type":"nominal","scale":{"domain":[0,1,2,4,8,16,24,32,40],"range":["#222222","#7b7bd6","#e8a0e8","#7fc97f","#a8c8e8","#f28080","#f6c770","#c47ccc","#c8e8b4"]},"legend":{"orient":"none","legendX":70,"legendY":60,"title":null,"labelExpr":"datum.label=='0'?'无溶洞':'L='+datum.label+' cm'"}}}},
{"data":{"name":"p14"},"transform":[{"filter":"datum.L==0"}],"mark":{"type":"line","clip":true,"strokeWidth":1.1,"interpolate":"monotone","color":"#222222","strokeOpacity":0.5},"encoding":{"x":{"field":"t","type":"quantitative"},"y":{"field":"v","type":"quantitative"}}},
{"data":{"values":[{"s":"R"}]},"mark":{"type":"text","fontStyle":"italic","align":"right","baseline":"middle","fontSize":10.5},"encoding":{"x":{"datum":0.8299},"y":{"datum":3.07},"text":{"field":"s"}}},
{"data":{"values":[{"s":"=14 mm"}]},"mark":{"type":"text","align":"left","baseline":"middle","fontSize":10.5},"encoding":{"x":{"datum":0.8299},"y":{"datum":3.07},"text":{"field":"s"}}}
]},
{"width":182,"height":140,"layer":[
{"data":{"name":"p20"},"mark":{"type":"line","clip":true,"strokeWidth":1.1,"interpolate":"monotone"},"encoding":{"x":{"field":"t","type":"quantitative","scale":{"domain":[0.82,0.94]},"axis":{"values":[0.82,0.86,0.9,0.94],"tickCount":8,"labelExpr":"format(datum.value,'.2f')","title":"t / ms"}},"y":{"field":"v","type":"quantitative","scale":{"domain":[-6,4]},"axis":{"values":[-6,-4,-2,0,2,4],"tickCount":12,"labelExpr":"datum.value==0?'0':datum.value+'×10⁻⁹'","title":"幅值"}},"color":{"field":"L","type":"nominal","scale":{"domain":[0,1,2,4,8,16,24,32,40],"range":["#222222","#7b7bd6","#e8a0e8","#7fc97f","#a8c8e8","#f28080","#f6c770","#c47ccc","#c8e8b4"]},"legend":{"orient":"none","legendX":70,"legendY":60,"title":null,"labelExpr":"datum.label=='0'?'无溶洞':'L='+datum.label+' cm'"}}}},
{"data":{"name":"p20"},"transform":[{"filter":"datum.L==0"}],"mark":{"type":"line","clip":true,"strokeWidth":1.1,"interpolate":"monotone","color":"#222222","strokeOpacity":0.5},"encoding":{"x":{"field":"t","type":"quantitative"},"y":{"field":"v","type":"quantitative"}}},
{"data":{"values":[{"s":"R"}]},"mark":{"type":"text","fontStyle":"italic","align":"right","baseline":"middle","fontSize":10.5},"encoding":{"x":{"datum":0.8299},"y":{"datum":3.07},"text":{"field":"s"}}},
{"data":{"values":[{"s":"=20 mm"}]},"mark":{"type":"text","align":"left","baseline":"middle","fontSize":10.5},"encoding":{"x":{"datum":0.8299},"y":{"datum":3.07},"text":{"field":"s"}}}
]},
{"width":182,"height":140,"layer":[
{"data":{"name":"p30"},"mark":{"type":"line","clip":true,"strokeWidth":1.1,"interpolate":"monotone"},"encoding":{"x":{"field":"t","type":"quantitative","scale":{"domain":[0.82,0.94]},"axis":{"values":[0.82,0.86,0.9,0.94],"tickCount":8,"labelExpr":"format(datum.value,'.2f')","title":"t / ms"}},"y":{"field":"v","type":"quantitative","scale":{"domain":[-6,4]},"axis":{"values":[-6,-4,-2,0,2,4],"tickCount":12,"labelExpr":"datum.value==0?'0':datum.value+'×10⁻⁹'","title":"幅值"}},"color":{"field":"L","type":"nominal","scale":{"domain":[0,1,2,4,8,16,24,32,40],"range":["#222222","#7b7bd6","#e8a0e8","#7fc97f","#a8c8e8","#f28080","#f6c770","#c47ccc","#c8e8b4"]},"legend":{"orient":"none","legendX":70,"legendY":60,"title":null,"labelExpr":"datum.label=='0'?'无溶洞':'L='+datum.label+' cm'"}}}},
{"data":{"name":"p30"},"transform":[{"filter":"datum.L==0"}],"mark":{"type":"line","clip":true,"strokeWidth":1.1,"interpolate":"monotone","color":"#222222","strokeOpacity":0.5},"encoding":{"x":{"field":"t","type":"quantitative"},"y":{"field":"v","type":"quantitative"}}},
{"data":{"values":[{"s":"R"}]},"mark":{"type":"text","fontStyle":"italic","align":"right","baseline":"middle","fontSize":10.5},"encoding":{"x":{"datum":0.8299},"y":{"datum":3.07},"text":{"field":"s"}}},
{"data":{"values":[{"s":"=30 mm"}]},"mark":{"type":"text","align":"left","baseline":"middle","fontSize":10.5},"encoding":{"x":{"datum":0.8299},"y":{"datum":3.07},"text":{"field":"s"}}}
]},
{"width":182,"height":140,"layer":[
{"data":{"name":"p40"},"mark":{"type":"line","clip":true,"strokeWidth":1.1,"interpolate":"monotone"},"encoding":{"x":{"field":"t","type":"quantitative","scale":{"domain":[0.82,0.94]},"axis":{"values":[0.82,0.86,0.9,0.94],"tickCount":8,"labelExpr":"format(datum.value,'.2f')","title":"t / ms"}},"y":{"field":"v","type":"quantitative","scale":{"domain":[-6,4]},"axis":{"values":[-6,-4,-2,0,2,4],"tickCount":12,"labelExpr":"datum.value==0?'0':datum.value+'×10⁻⁹'","title":"幅值"}},"color":{"field":"L","type":"nominal","scale":{"domain":[0,1,2,4,8,16,24,32,40],"range":["#222222","#7b7bd6","#e8a0e8","#7fc97f","#a8c8e8","#f28080","#f6c770","#c47ccc","#c8e8b4"]},"legend":{"orient":"none","legendX":70,"legendY":60,"title":null,"labelExpr":"datum.label=='0'?'无溶洞':'L='+datum.label+' cm'"}}}},
{"data":{"name":"p40"},"transform":[{"filter":"datum.L==0"}],"mark":{"type":"line","clip":true,"strokeWidth":1.1,"interpolate":"monotone","color":"#222222","strokeOpacity":0.5},"encoding":{"x":{"field":"t","type":"quantitative"},"y":{"field":"v","type":"quantitative"}}},
{"data":{"values":[{"s":"R"}]},"mark":{"type":"text","fontStyle":"italic","align":"right","baseline":"middle","fontSize":10.5},"encoding":{"x":{"datum":0.8299},"y":{"datum":3.07},"text":{"field":"s"}}},
{"data":{"values":[{"s":"=40 mm"}]},"mark":{"type":"text","align":"left","baseline":"middle","fontSize":10.5},"encoding":{"x":{"datum":0.8299},"y":{"datum":3.07},"text":{"field":"s"}}}
]},
{"width":182,"height":140,"layer":[
{"data":{"name":"p50"},"mark":{"type":"line","clip":true,"strokeWidth":1.1,"interpolate":"monotone"},"encoding":{"x":{"field":"t","type":"quantitative","scale":{"domain":[0.82,0.94]},"axis":{"values":[0.82,0.86,0.9,0.94],"tickCount":8,"labelExpr":"format(datum.value,'.2f')","title":"t / ms"}},"y":{"field":"v","type":"quantitative","scale":{"domain":[-6,4]},"axis":{"values":[-6,-4,-2,0,2,4],"tickCount":12,"labelExpr":"datum.value==0?'0':datum.value+'×10⁻⁹'","title":"幅值"}},"color":{"field":"L","type":"nominal","scale":{"domain":[0,1,2,4,8,16,24,32,40],"range":["#222222","#7b7bd6","#e8a0e8","#7fc97f","#a8c8e8","#f28080","#f6c770","#c47ccc","#c8e8b4"]},"legend":{"orient":"none","legendX":70,"legendY":60,"title":null,"labelExpr":"datum.label=='0'?'无溶洞':'L='+datum.label+' cm'"}}}},
{"data":{"name":"p50"},"transform":[{"filter":"datum.L==0"}],"mark":{"type":"line","clip":true,"strokeWidth":1.1,"interpolate":"monotone","color":"#222222","strokeOpacity":0.5},"encoding":{"x":{"field":"t","type":"quantitative"},"y":{"field":"v","type":"quantitative"}}},
{"data":{"values":[{"s":"R"}]},"mark":{"type":"text","fontStyle":"italic","align":"right","baseline":"middle","fontSize":10.5},"encoding":{"x":{"datum":0.8299},"y":{"datum":3.07},"text":{"field":"s"}}},
{"data":{"values":[{"s":"=50 mm"}]},"mark":{"type":"text","align":"left","baseline":"middle","fontSize":10.5},"encoding":{"x":{"datum":0.8299},"y":{"datum":3.07},"text":{"field":"s"}}}
]},
{"width":182,"height":140,"layer":[
{"data":{"name":"p60"},"mark":{"type":"line","clip":true,"strokeWidth":1.1,"interpolate":"monotone"},"encoding":{"x":{"field":"t","type":"quantitative","scale":{"domain":[0.82,0.94]},"axis":{"values":[0.82,0.86,0.9,0.94],"tickCount":8,"labelExpr":"format(datum.value,'.2f')","title":"t / ms"}},"y":{"field":"v","type":"quantitative","scale":{"domain":[-6,4]},"axis":{"values":[-6,-4,-2,0,2,4],"tickCount":12,"labelExpr":"datum.value==0?'0':datum.value+'×10⁻⁹'","title":"幅值"}},"color":{"field":"L","type":"nominal","scale":{"domain":[0,1,2,4,8,16,24,32,40],"range":["#222222","#7b7bd6","#e8a0e8","#7fc97f","#a8c8e8","#f28080","#f6c770","#c47ccc","#c8e8b4"]},"legend":{"orient":"none","legendX":70,"legendY":60,"title":null,"labelExpr":"datum.label=='0'?'无溶洞':'L='+datum.label+' cm'"}}}},
{"data":{"name":"p60"},"transform":[{"filter":"datum.L==0"}],"mark":{"type":"line","clip":true,"strokeWidth":1.1,"interpolate":"monotone","color":"#222222","strokeOpacity":0.5},"encoding":{"x":{"field":"t","type":"quantitative"},"y":{"field":"v","type":"quantitative"}}},
{"data":{"values":[{"s":"R"}]},"mark":{"type":"text","fontStyle":"italic","align":"right","baseline":"middle","fontSize":10.5},"encoding":{"x":{"datum":0.8299},"y":{"datum":3.07},"text":{"field":"s"}}},
{"data":{"values":[{"s":"=60 mm"}]},"mark":{"type":"text","align":"left","baseline":"middle","fontSize":10.5},"encoding":{"x":{"datum":0.8299},"y":{"datum":3.07},"text":{"field":"s"}}}
]}
],
"config":{
"font":"Liberation Serif, Noto Sans CJK SC, serif",
"view":{"stroke":"#000","strokeWidth":1},
"text":{"font":"Liberation Serif, Noto Sans CJK SC, serif","color":"#000"},
"axis":{"domain":false,"grid":false,"ticks":true,"tickSize":-4,"tickColor":"#000","tickWidth":1,"labelOverlap":false,"labelFont":"Liberation Serif, Noto Sans CJK SC, serif","labelFontSize":10,"labelColor":"#000","titleFont":"Liberation Serif, Noto Sans CJK SC, serif","titleFontSize":10,"titleFontWeight":"normal","titleColor":"#000"},
"axisX":{"labelPadding":6,"titlePadding":0,"labelFlush":false},
"axisY":{"labelPadding":8,"titleX":-32,"titleY":70,"titleAngle":270,"titleBaseline":"middle","titleAlign":"center"},
"legend":{"labelFont":"Liberation Serif, Noto Sans CJK SC, serif","labelFontSize":7,"labelColor":"#000","symbolSize":64,"symbolStrokeWidth":1.5,"symbolType":"stroke","strokeColor":"#000","fillColor":"#fff","padding":3,"rowPadding":0,"labelOffset":3,"labelLimit":100}
}
}
